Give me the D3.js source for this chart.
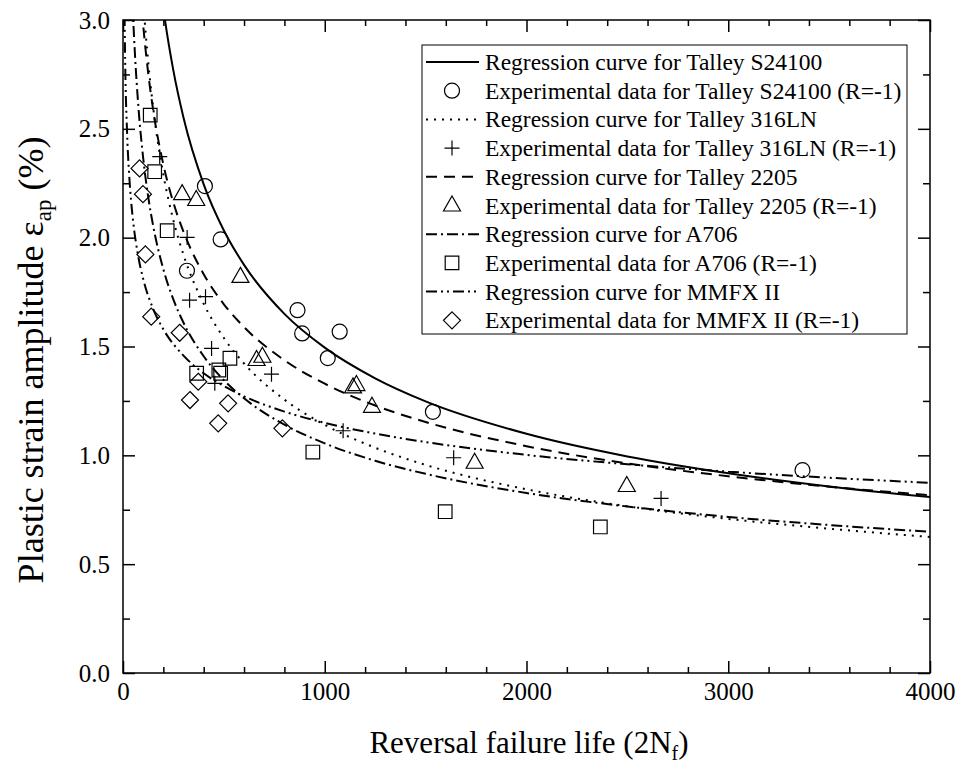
<!DOCTYPE html>
<html>
<head>
<meta charset="utf-8">
<script src="https://cdn.jsdelivr.net/npm/d3@7"></script>
<style>
  body { margin: 0; background: #fff; }
  svg { display: block; font-family: "Liberation Serif", "Times New Roman", serif; }
</style>
</head>
<body>
<div id="chart"></div>
<script>
// regression curves, values
const s24100CurveX = [150, 200, 250, 300, 400, 500, 600, 800, 1000, 1250, 1500, 2000, 2500, 3000, 3500, 4000];
const s24100CurveY = [3.470, 3.054, 2.766, 2.551, 2.245, 2.033, 1.875, 1.650, 1.495, 1.354, 1.248, 1.099, 0.995, 0.918, 0.857, 0.808];
const t316CurveX = [75, 100, 125, 150, 200, 250, 300, 400, 500, 600, 800, 1000, 1250, 1500, 2000, 2500, 3000, 3500, 4000];
const t316CurveY = [3.502, 3.092, 2.807, 2.594, 2.290, 2.079, 1.921, 1.696, 1.539, 1.422, 1.256, 1.140, 1.035, 0.956, 0.844, 0.766, 0.708, 0.663, 0.625];
const t2205CurveX = [75, 100, 125, 150, 200, 250, 300, 400, 500, 600, 800, 1000, 1250, 1500, 2000, 2500, 3000, 3500, 4000];
const t2205CurveY = [3.296, 2.979, 2.755, 2.584, 2.336, 2.160, 2.027, 1.832, 1.694, 1.589, 1.437, 1.329, 1.229, 1.153, 1.042, 0.963, 0.904, 0.856, 0.817];
const a706CurveX = [40, 50, 60, 75, 100, 125, 150, 200, 250, 300, 400, 500, 600, 800, 1000, 1250, 1500, 2000, 2500, 3000, 3500, 4000];
const a706CurveY = [3.262, 3.017, 2.830, 2.617, 2.366, 2.187, 2.052, 1.855, 1.715, 1.609, 1.455, 1.345, 1.262, 1.141, 1.055, 0.975, 0.915, 0.827, 0.765, 0.717, 0.680, 0.649];
const mmfxCurveX = [5, 10, 20, 30, 40, 50, 75, 100, 150, 200, 300, 400, 500, 600, 800, 1000, 1250, 1500, 2000, 2500, 3000, 3500, 4000];
const mmfxCurveY = [3.272, 2.854, 2.489, 2.297, 2.170, 2.077, 1.917, 1.811, 1.672, 1.579, 1.458, 1.377, 1.318, 1.271, 1.201, 1.149, 1.100, 1.061, 1.002, 0.959, 0.925, 0.897, 0.874];

// experimental data
const s24100X = [406, 484, 317, 865, 888, 1074, 1015, 1536, 3368];
const s24100Y = [2.237, 1.992, 1.848, 1.667, 1.560, 1.568, 1.447, 1.200, 0.932];
const t316X = [182, 318, 330, 409, 439, 736, 455, 1091, 1639, 2667];
const t316Y = [2.372, 2.001, 1.713, 1.729, 1.491, 1.373, 1.331, 1.113, 0.989, 0.802];
const t2205X = [293, 363, 582, 662, 691, 1140, 1157, 1234, 1743, 2497];
const t2205Y = [2.200, 2.173, 1.820, 1.438, 1.453, 1.312, 1.323, 1.223, 0.966, 0.859];
const a706X = [135, 157, 219, 530, 475, 484, 365, 941, 1597, 2366];
const a706Y = [2.563, 2.303, 2.032, 1.446, 1.392, 1.377, 1.377, 1.015, 0.741, 0.671];
const mmfxX = [82, 99, 111, 140, 281, 373, 521, 472, 332, 790];
const mmfxY = [2.318, 2.200, 1.923, 1.637, 1.563, 1.338, 1.239, 1.147, 1.254, 1.124];

const legendLabels = [
  'Regression curve for Talley S24100',
  'Experimental data for Talley S24100 (R=-1)',
  'Regression curve for Talley 316LN',
  'Experimental data for Talley 316LN (R=-1)',
  'Regression curve for Talley 2205',
  'Experimental data for Talley 2205 (R=-1)',
  'Regression curve for A706',
  'Experimental data for A706 (R=-1)',
  'Regression curve for MMFX II',
  'Experimental data for MMFX II (R=-1)'
];

const width = 958, height = 764;
const plotLeft = 123, plotRight = 930, plotTop = 20, plotBottom = 673;

const svg = d3.select('#chart').append('svg')
  .attr('width', width)
  .attr('height', height);

const x = d3.scaleLinear().domain([0, 4000]).range([plotLeft, plotRight]);
const y = d3.scaleLinear().domain([0, 3]).range([plotBottom, plotTop]);

svg.append('clipPath').attr('id', 'plot-clip')
  .append('rect')
  .attr('x', plotLeft).attr('y', plotTop)
  .attr('width', plotRight - plotLeft).attr('height', plotBottom - plotTop);

// dash styles
const dashes = {
  solid: null,
  dot: '2,6',
  dash: '11,7',
  dashdot: '11,4,2,4',
  dashdotdot: '11,4,2,4,2,4'
};

const curves = [
  { xs: s24100CurveX, ys: s24100CurveY, dash: dashes.solid },
  { xs: t316CurveX, ys: t316CurveY, dash: dashes.dot },
  { xs: t2205CurveX, ys: t2205CurveY, dash: dashes.dash },
  { xs: a706CurveX, ys: a706CurveY, dash: dashes.dashdot },
  { xs: mmfxCurveX, ys: mmfxCurveY, dash: dashes.dashdotdot }
];

const line = d3.line()
  .x(d => x(d[0]))
  .y(d => y(d[1]))
  .curve(d3.curveMonotoneX);

const curveG = svg.append('g').attr('clip-path', 'url(#plot-clip)');
curves.forEach(c => {
  curveG.append('path')
    .datum(d3.zip(c.xs, c.ys))
    .attr('d', line)
    .attr('fill', 'none')
    .attr('stroke', 'black')
    .attr('stroke-width', 2)
    .attr('stroke-dasharray', c.dash);
});

// marker shapes
function markerPath(kind) {
  const p = d3.path();
  if (kind === 'circle') {
    p.moveTo(7.5, 0);
    p.arc(0, 0, 7.5, 0, 2 * Math.PI);
  } else if (kind === 'plus') {
    p.moveTo(-7.5, 0); p.lineTo(7.5, 0);
    p.moveTo(0, -7.5); p.lineTo(0, 7.5);
  } else if (kind === 'triangle') {
    p.moveTo(0, -9.5); p.lineTo(8.5, 5.5); p.lineTo(-8.5, 5.5); p.closePath();
  } else if (kind === 'square') {
    p.rect(-6.8, -6.8, 13.6, 13.6);
  } else if (kind === 'diamond') {
    p.moveTo(0, -8.5); p.lineTo(8.5, 0); p.lineTo(0, 8.5); p.lineTo(-8.5, 0); p.closePath();
  }
  return p.toString();
}

const scatter = [
  { xs: s24100X, ys: s24100Y, kind: 'circle' },
  { xs: t316X, ys: t316Y, kind: 'plus' },
  { xs: t2205X, ys: t2205Y, kind: 'triangle' },
  { xs: a706X, ys: a706Y, kind: 'square' },
  { xs: mmfxX, ys: mmfxY, kind: 'diamond' }
];

scatter.forEach(s => {
  svg.append('g').selectAll('path')
    .data(d3.zip(s.xs, s.ys))
    .join('path')
    .attr('transform', d => `translate(${x(d[0])},${y(d[1])})`)
    .attr('d', markerPath(s.kind))
    .attr('fill', 'none')
    .attr('stroke', 'black')
    .attr('stroke-width', 1.2);
});

// axes: ticks point inward on all four sides
function styleAxis(g) {
  g.select('.domain').remove();
  g.selectAll('line').attr('stroke', 'black').attr('stroke-width', 1.5);
  g.selectAll('text')
    .attr('font-family', '"Liberation Serif", "Times New Roman", serif')
    .attr('font-size', 25)
    .attr('fill', 'black');
}

const xMajor = [0, 1000, 2000, 3000, 4000];
const xMinor = d3.range(0, 4001, 200).filter(v => v % 1000 !== 0);
const yMajor = [0, 0.5, 1.0, 1.5, 2.0, 2.5, 3.0];
const yMinor = d3.range(0.25, 3, 0.5);

svg.append('g').attr('transform', `translate(0,${plotBottom})`)
  .call(d3.axisBottom(x).tickValues(xMajor).tickSize(-12).tickPadding(9).tickFormat(d3.format('d')))
  .call(styleAxis);
svg.append('g').attr('transform', `translate(0,${plotBottom})`)
  .call(d3.axisBottom(x).tickValues(xMinor).tickSize(-6).tickFormat(''))
  .call(styleAxis);
svg.append('g').attr('transform', `translate(0,${plotTop})`)
  .call(d3.axisTop(x).tickValues(xMajor).tickSize(-12).tickFormat(''))
  .call(styleAxis);
svg.append('g').attr('transform', `translate(0,${plotTop})`)
  .call(d3.axisTop(x).tickValues(xMinor).tickSize(-6).tickFormat(''))
  .call(styleAxis);

svg.append('g').attr('transform', `translate(${plotLeft},0)`)
  .call(d3.axisLeft(y).tickValues(yMajor).tickSize(-12).tickPadding(13).tickFormat(d3.format('.1f')))
  .call(styleAxis);
svg.append('g').attr('transform', `translate(${plotLeft},0)`)
  .call(d3.axisLeft(y).tickValues(yMinor).tickSize(-7).tickFormat(''))
  .call(styleAxis);
svg.append('g').attr('transform', `translate(${plotRight},0)`)
  .call(d3.axisRight(y).tickValues(yMajor).tickSize(-12).tickFormat(''))
  .call(styleAxis);
svg.append('g').attr('transform', `translate(${plotRight},0)`)
  .call(d3.axisRight(y).tickValues(yMinor).tickSize(-7).tickFormat(''))
  .call(styleAxis);

// frame
svg.append('rect')
  .attr('x', plotLeft).attr('y', plotTop)
  .attr('width', plotRight - plotLeft).attr('height', plotBottom - plotTop)
  .attr('fill', 'none')
  .attr('stroke', 'black')
  .attr('stroke-width', 1.5);

// axis titles
const xTitle = svg.append('text')
  .attr('x', 529)
  .attr('y', 753)
  .attr('text-anchor', 'middle')
  .attr('font-size', 31);
xTitle.append('tspan').text('Reversal failure life (2N');
xTitle.append('tspan').text('f').attr('font-size', 20).attr('dy', 7);
xTitle.append('tspan').text(')').attr('dy', -7);

const yTitle = svg.append('text')
  .attr('transform', `translate(43,360) rotate(-90)`)
  .attr('text-anchor', 'middle')
  .attr('font-size', 36);
yTitle.append('tspan').text('Plastic strain amplitude ε');
yTitle.append('tspan').text('ap').attr('font-size', 23).attr('dy', 8);
yTitle.append('tspan').text(' (%)').attr('dy', -8);

// legend
const legend = svg.append('g');
legend.append('rect')
  .attr('x', 422).attr('y', 45)
  .attr('width', 485).attr('height', 289)
  .attr('fill', 'white')
  .attr('stroke', 'black')
  .attr('stroke-width', 1);

const legendItems = [
  { type: 'line', dash: dashes.solid },
  { type: 'marker', kind: 'circle' },
  { type: 'line', dash: dashes.dot },
  { type: 'marker', kind: 'plus' },
  { type: 'line', dash: dashes.dash },
  { type: 'marker', kind: 'triangle' },
  { type: 'line', dash: dashes.dashdot },
  { type: 'marker', kind: 'square' },
  { type: 'line', dash: dashes.dashdotdot },
  { type: 'marker', kind: 'diamond' }
];

legendItems.forEach((item, i) => {
  const ry = 62 + i * 28.7;
  if (item.type === 'line') {
    legend.append('line')
      .attr('x1', 426).attr('x2', 479)
      .attr('y1', ry).attr('y2', ry)
      .attr('stroke', 'black')
      .attr('stroke-width', 2)
      .attr('stroke-dasharray', item.dash);
  } else {
    legend.append('path')
      .attr('transform', `translate(452,${ry})`)
      .attr('d', markerPath(item.kind))
      .attr('fill', 'none')
      .attr('stroke', 'black')
      .attr('stroke-width', 1.2);
  }
  legend.append('text')
    .attr('x', 485)
    .attr('y', ry + 8)
    .attr('font-size', 23.5)
    .text(legendLabels[i]);
});
</script>
</body>
</html>
